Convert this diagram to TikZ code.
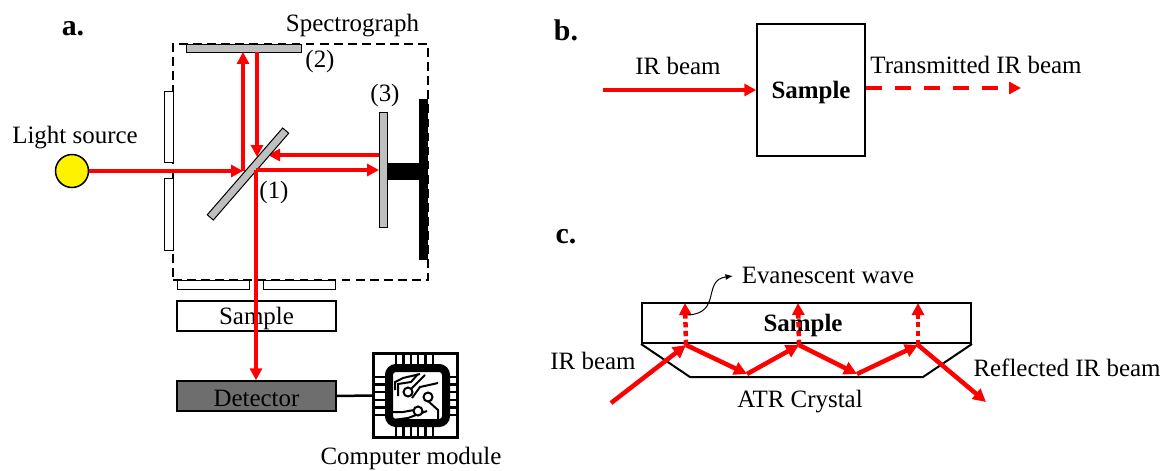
\documentclass[tikz,border=0pt]{standalone}
\usepackage{xcolor}
\usepackage{fontspec}
\setmainfont{Liberation Serif}
\usetikzlibrary{arrows.meta}
\definecolor{mirrorgray}{HTML}{BFBFBF}
\definecolor{detectorgray}{HTML}{6E6E6E}
\tikzset{
    every node/.style={font=\fontsize{14.2}{16}\selectfont, inner sep=0pt},
    boldlabel/.style={font=\fontsize{14.2}{16}\selectfont\bfseries},
    panel/.style={font=\fontsize{17}{19}\selectfont\bfseries},
    beam/.style={red, line width=.07cm, -{Triangle[length=.24cm,width=.24cm]}},
    thickbeam/.style={red, line width=.09cm, -{Triangle[length=.26cm,width=.26cm]}},
    wave/.style={red, line width=.09cm, dash pattern=on 3pt off 2pt, -{Triangle[length=.24cm,width=.24cm]}},
    box/.style={draw=black, line width=.03cm, fill=white, minimum width=#1*.02cm},
    mirror/.style={draw=black, line width=.02cm, fill=mirrorgray},
    pin/.style={line width=.05cm},
    trace/.style={line width=.04cm},
}
\begin{document}
\begin{tikzpicture}[x=.02cm,y=-.02cm]
    \useasboundingbox (0,0) rectangle (1162,470);
    % panel a
    \node (spectrobox) [draw, dash pattern=on 5pt off 3pt, line width=.04cm, minimum width=5.1cm, minimum height=4.72cm] at (300.5,162) {};
    \foreach \name/\y/\h in {slitup/126.5/71, slitdown/214/72}{\node (\name) [box=9, minimum height=\h*.02cm, line width=.02cm] at (168.5,\y) {};}
    \foreach \name/\x in {slitleft/213, slitright/299}{\node (\name) [box=72, minimum height=.18cm, line width=.02cm] at (\x,284.5) {};}
    \node (mirrortop) [mirror, minimum width=2.32cm, minimum height=.16cm] at (244,48) {};
    \node (mirrorright) [mirror, minimum width=.16cm, minimum height=2.32cm] at (383,170) {};
    \node (stagebar) [fill=black, minimum width=.18cm, minimum height=3.22cm] at (423.5,179.5) {};
    \node (stagearm) [fill=black, minimum width=.64cm, minimum height=.34cm] at (403,171.5) {};
    \node (source) [draw, fill=yellow, circle, minimum size=.66cm, line width=.03cm] at (72,171) {};
    \node (sampleA) [box=159, minimum height=.6cm] at (256.5,316) {};
    \node (sampleAtext) at (256.5,318) {Sample};
    \node (detector) [box=159, fill=detectorgray, minimum height=.6cm] at (256.5,396) {};
    \node (detectortext) at (256.5,398) {Detector};
    \node (chip) [draw, line width=.07cm, minimum size=1.68cm] at (415.5,395.5) {};
    \coordinate (splitleft) at (243,171);
    \coordinate (splitmid) at (256,170);
    \coordinate (splitup) at (257,157);
    \coordinate (splitright) at (268,155);
    \coordinate (topup) at (243,52);
    \coordinate (topdown) at (257,52);
    \coordinate (rightin) at (379,170);
    \coordinate (rightout) at (379,155);
    \draw[beam] (source.east) -- (splitleft);
    \draw[beam] (splitleft) -- (topup);
    \draw[beam] (topdown) -- (splitup);
    \draw[beam] (rightout) -- (splitright);
    \node (splitter) [mirror, rotate=49, minimum width=2.3cm, minimum height=.16cm] at (248,174) {};
    \draw[beam] (splitmid) -- (rightin);
    \draw[beam] (splitmid) -- (detector.north -| splitmid);
    \draw[line width=.05cm] (detector.east) -- (chip.west);
    % chip pins and traces
    \draw[line width=.16cm, rounded corners=.14cm] (389,368) rectangle (446,423);
    \foreach \p in {0,...,5}{
        \draw[pin] (396+\p*7.4,354) -- (396+\p*7.4,364);
        \draw[pin] (396+\p*7.4,427) -- (396+\p*7.4,437);
        \draw[pin] (374,377+\p*7.6) -- (385,377+\p*7.6);
        \draw[pin] (450,377+\p*7.6) -- (458,377+\p*7.6);
    }
    \draw[trace] (395,390) -- (395,382) -- (403,378) -- (420,374);
    \draw[trace] (398,396) -- (398,384) -- (411,382) -- (418,374);
    \draw[trace] (411,389) -- (425,375);
    \draw[trace] (412,398) -- (420,387) -- (438,383);
    \draw[trace] (428,401) -- (438,410) -- (438,420);
    \draw[trace] (393,412) -- (403,412) -- (414,410);
    \draw[trace] (393,420) -- (408,418) -- (427,411);
    \foreach \x/\y in {408/392, 428/397, 418/411}{\draw[trace, fill=white] (\x,\y) circle [radius=4.5];}
    \node (labelA) [panel] at (73,29) {a.};
    \node (spectrograph) at (352.5,26) {Spectrograph};
    \node (numtwo) at (320,61) {(2)};
    \node (numthree) at (385,95) {(3)};
    \node (numone) at (274,192) {(1)};
    \node (lightsource) at (75,138) {Light source};
    \node (computer) at (411,458) {Computer module};
    % panel b
    \node (labelB) [panel] at (566,30) {b.};
    \node (sampleB) [box=108, minimum height=2.64cm] at (811,90) {};
    \node (sampleBtext) [boldlabel] at (811,92) {Sample};
    \coordinate (irstart) at (603,90);
    \coordinate (txend) at (1021,88);
    \draw[beam] (irstart) -- (sampleB.west);
    \draw[beam, line width=.08cm, dash pattern=on 9.1pt off 7.4pt] (sampleB.east |- txend) -- (txend);
    \node (irbeamB) at (678,66) {IR beam};
    \node (transmitted) at (976,65) {Transmitted IR beam};
    % panel c
    \node (labelC) [panel] at (566,237) {c.};
    \node (crystal) [draw, line width=.04cm, minimum width=6.58cm, minimum height=.8cm] at (806.5,323) {};
    \draw[line width=.04cm] (crystal.south west) -- (690,377) -- (923,377) -- (crystal.south east);
    \node (sampleC) [boldlabel] at (803,325) {Sample};
    \coordinate (hitone) at (686,345);
    \coordinate (hittwo) at (799,345);
    \coordinate (hitthree) at (918,345);
    \coordinate (lowone) at (747,374);
    \coordinate (lowtwo) at (857,374);
    \coordinate (startc) at (611,403);
    \coordinate (endc) at (986,402);
    \draw[thickbeam] (startc) -- (hitone);
    \draw[thickbeam] (hitone) -- (lowone);
    \draw[thickbeam] (lowone) -- (hittwo);
    \draw[thickbeam] (hittwo) -- (lowtwo);
    \draw[thickbeam] (lowtwo) -- (hitthree);
    \draw[thickbeam] (hitthree) -- (endc);
    \foreach \hit/\x in {hitone/685, hittwo/798, hitthree/918}{\draw[wave] (\hit) -- (\x,303);}
    \node (evanescent) at (828,275) {Evanescent wave};
    \coordinate (waveend) at (688,315);
    \draw[line width=.02cm, -{Latex[length=.15cm,width=.12cm]}] (waveend) .. controls (722,313) and (702,280) .. (733,276);
    \node (irbeamC) at (593,361) {IR beam};
    \node (reflected) at (1067,368) {Reflected IR beam};
    \node (atr) at (800,402) {ATR Crystal};
\end{tikzpicture}
\end{document}
